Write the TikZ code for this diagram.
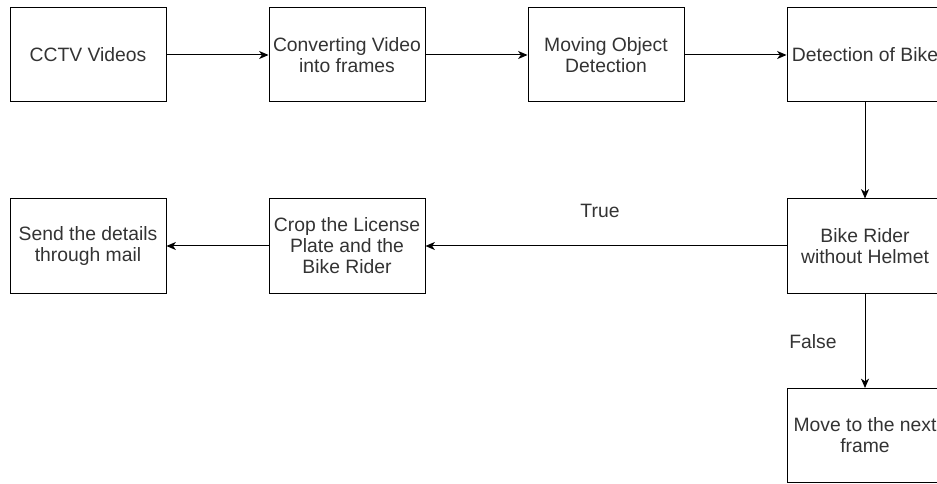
\documentclass[tikz,border=0pt]{standalone}
\usepackage{fontspec}
\setmainfont{Liberation Sans}
\usetikzlibrary{positioning,arrows.meta}

\begin{document}
\begin{tikzpicture}[>={Stealth[length=7pt,width=6pt,inset=2pt]},x=0.75pt,y=-0.75pt,line width=0.75pt,
  every node/.style={font=\fontsize{14.5pt}{15.75pt}\selectfont,text=black!80},
  stepbox/.style={draw=black,minimum width=117pt,minimum height=70.5pt,inner sep=0pt,align=center}]
\useasboundingbox (0,0) rectangle (937,484);
\clip (0,0) rectangle (937,484);
%%
\node (CCTV) at (88,55) [stepbox] {CCTV Videos};
  \node (Converting) at (347,55) [stepbox] {Converting Video\\into frames};
  \node (Moving) at (606,55) [stepbox] {Moving Object\\Detection};
  \node (Detection) at (865,55) [stepbox] {Detection of Bike};
  \node (Rider) at (865,246) [stepbox] {Bike Rider\\without Helmet};
  \node (Crop) at (347,246) [stepbox] {Crop the License\\Plate and the\\Bike Rider};
  \node (Send) at (88,246) [stepbox] {Send the details\\through mail};
  \node (Move) at (865,435.5) [stepbox] {Move to the next\\frame};
  \node (True) at (600,211) {True};
  \node (False) at (813,342) {False};
  \draw [black,->] (CCTV) -- (Converting);
  \draw [black,->] (Converting) -- (Moving);
  \draw [black,->] (Moving) -- (Detection);
  \draw [black,->] (Detection) -- (Rider);
  \draw [black,->] (Rider) -- (Crop);
  \draw [black,->] (Crop) -- (Send);
  \draw [black,->] (Rider) -- (Move);
%
\end{tikzpicture}
\end{document}
